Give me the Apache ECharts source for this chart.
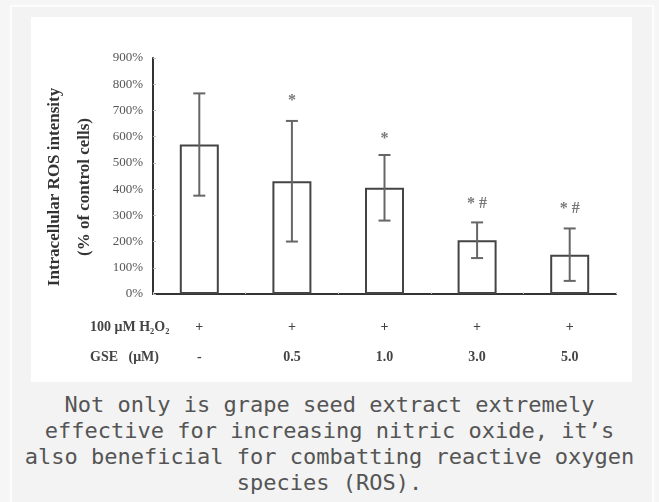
<!DOCTYPE html>
<html>
<head>
<meta charset="utf-8">
<script src="https://cdn.jsdelivr.net/npm/echarts@6/dist/echarts.min.js"></script>
<style>
  html, body { margin: 0; padding: 0; background: #f6f6f6; width: 659px; height: 502px; overflow: hidden; }
  .frame { position: absolute; left: 10px; top: 5px; width: 644px; height: 520px; box-sizing: border-box;
           border: 2px solid #fdfdfd; background: #f3f3f3; }
  #chart { position: absolute; left: 31px; top: 17px; width: 601px; height: 365px; background: #fff; }
  .caption { position: absolute; left: 0; top: 392px; width: 659px; text-align: center;
             font: 22px/26px 'DejaVu Sans Mono', monospace; color: #555; }
</style>
</head>
<body>
<div class="frame"></div>
<div id="chart"></div>
<div class="caption">Not only is grape seed extract extremely<br>effective for increasing nitric oxide, it’s<br>also beneficial for combatting reactive oxygen<br>species (ROS).</div>
<script>
// values (% of control cells)
const gseDose = ['-', '0.5', '1.0', '3.0', '5.0']
const h2o2Row = ['+', '+', '+', '+', '+']
const rosMean = [570, 430, 405, 205, 150]
const rosSd = [195, 230, 125, 68, 100]
const sigMark = ['', '*', '*', '* #', '* #']
const sigPos = [null, 752, 607, 359, 340]
const yTicks = [0, 100, 200, 300, 400, 500, 600, 700, 800, 900]

const serif = "'Liberation Serif', 'Times New Roman', serif"
const ec = echarts.init(document.getElementById('chart'))

const errData = rosMean.map((m, i) => [i, m - rosSd[i], m + rosSd[i]])
const sigData = sigPos.map((v, i) => [i, v])

ec.setOption({
    animation: false,
    grid: { left: 122, top: 41, right: 16, bottom: 88 },
    xAxis: {
        type: 'category',
        data: gseDose,
        axisLine: { lineStyle: { color: '#333', width: 2 } },
        axisTick: { show: true, inside: true, length: 2, lineStyle: { color: '#ccc' } },
        axisLabel: {
            margin: 18,
            formatter: (v, i) => '{a|' + h2o2Row[i] + '}\n{b|' + v + '}',
            rich: {
                a: { fontFamily: serif, fontWeight: 'bold', fontSize: 14, color: '#444', lineHeight: 30 },
                b: { fontFamily: serif, fontWeight: 'bold', fontSize: 14, color: '#444', lineHeight: 30 }
            }
        }
    },
    yAxis: {
        type: 'value',
        min: yTicks[0],
        max: yTicks[yTicks.length - 1],
        interval: 100,
        axisLine: { show: true, lineStyle: { color: '#333', width: 2 } },
        axisTick: { show: true, inside: true, length: 3, lineStyle: { color: '#bbb' } },
        splitLine: { show: false },
        axisLabel: { margin: 10, fontFamily: serif, fontSize: 13, color: '#555', formatter: '{value}%' }
    },
    graphic: [
        {
            type: 'text', x: 24, y: 170, rotation: Math.PI / 2,
            style: { text: 'Intracellular ROS intensity', font: 'bold 17px ' + serif, fill: '#333',
                     align: 'center', verticalAlign: 'middle' }
        },
        {
            type: 'text', x: 54, y: 170, rotation: Math.PI / 2,
            style: { text: '(% of control cells)', font: 'bold 17px ' + serif, fill: '#333',
                     align: 'center', verticalAlign: 'middle' }
        },
        {
            type: 'text', x: 59, y: 310,
            style: { text: '100 μM H₂O₂', font: 'bold 14px ' + serif, fill: '#444', verticalAlign: 'middle' }
        },
        {
            type: 'text', x: 59, y: 340,
            style: { text: 'GSE   (μM)', font: 'bold 14px ' + serif, fill: '#444', verticalAlign: 'middle' }
        }
    ],
    series: [
        {
            type: 'bar',
            data: rosMean,
            barWidth: 39,
            itemStyle: { color: '#fff', borderColor: '#444', borderWidth: 2 }
        },
        {
            type: 'custom',
            data: errData,
            z: 5,
            renderItem (params, api) {
                const lo = api.coord([api.value(0), api.value(1)])
                const hi = api.coord([api.value(0), api.value(2)])
                const cap = 6
                const st = { stroke: '#666', lineWidth: 2 }
                return {
                    type: 'group',
                    children: [
                        { type: 'line', shape: { x1: hi[0], y1: hi[1], x2: lo[0], y2: lo[1] }, style: st },
                        { type: 'line', shape: { x1: hi[0] - cap, y1: hi[1], x2: hi[0] + cap, y2: hi[1] }, style: st },
                        { type: 'line', shape: { x1: lo[0] - cap, y1: lo[1], x2: lo[0] + cap, y2: lo[1] }, style: st }
                    ]
                }
            }
        },
        {
            type: 'scatter',
            data: sigData,
            symbolSize: 0,
            label: {
                show: true,
                position: 'inside',
                offset: [0, 4],
                formatter: p => sigMark[p.dataIndex],
                fontFamily: serif,
                fontWeight: 'bold',
                fontSize: 16,
                color: '#555'
            }
        }
    ]
})
</script>
</body>
</html>
